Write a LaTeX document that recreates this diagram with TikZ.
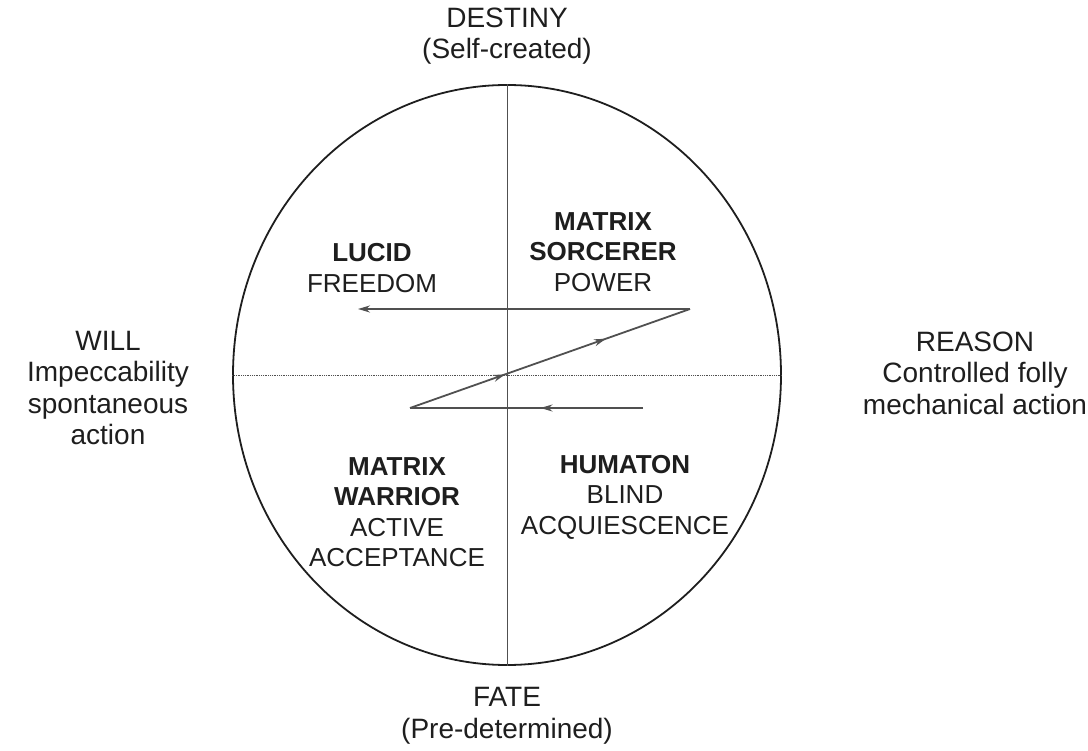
\documentclass[tikz,border=0pt]{standalone}
\usepackage{fontspec}
\setmainfont{Liberation Sans}
\usetikzlibrary{arrows.meta,decorations.markings,shapes.geometric,positioning}
\definecolor{inkgray}{HTML}{1E1E1E}
\definecolor{linegray}{HTML}{505050}

\begin{document}
\begin{tikzpicture}[x=1pt, y=-1pt,
    >={Stealth[length=12pt, width=7pt]},
    pole/.style={align=center, text=inkgray, inner sep=0pt, font=\fontsize{28}{31.5}\selectfont},
    quad/.style={align=center, text=inkgray, inner sep=0pt, font=\fontsize{26}{30.5}\selectfont},
    ring/.style={ellipse, draw=inkgray, line width=1.8pt, minimum width=548pt, minimum height=580pt, inner sep=0pt},
    axis/.style={draw=linegray, line width=0.8pt},
    zig/.style={draw=linegray, line width=1.8pt},
    midarrow/.style={postaction={decorate}, decoration={markings, mark=at position #1 with {\arrow{>}}}}
]
\useasboundingbox (0,0) rectangle (1088,751);

% circle and axes
\node [ring] (ring) at (507,375) {};
\draw [axis] (ring.north) -- (ring.south);
\draw [axis, densely dotted] (ring.west) -- (ring.east);

% poles
\node [pole] (destiny) at (507,36) {DESTINY\\(Self-created)};
\node [pole] (fate) at (507,716) {FATE\\(Pre-determined)};
\node [pole] (will) at (108,388) {WILL\\Impeccability\\spontaneous\\action};
\node [pole] (reason) at (975,373) {REASON\\Controlled folly\\mechanical action};

% quadrants
\node [quad] (lucid) at (372,268) {\textbf{LUCID}\\FREEDOM};
\node [quad] (sorcerer) at (603,252) {\textbf{MATRIX}\\\textbf{SORCERER}\\POWER};
\node [quad] (warrior) at (397,512) {\textbf{MATRIX}\\\textbf{WARRIOR}\\ACTIVE\\ACCEPTANCE};
\node [quad] (humaton) at (625,497) {\textbf{HUMATON}\\BLIND\\ACQUIESCENCE};

% the zigzag path
\coordinate (zstart) at (643,408);
\coordinate (zleft) at (410,408);
\coordinate (zright) at (690,309);
\coordinate (zend) at (358,309);

\draw [zig, midarrow=0.44] (zstart) -- (zleft);
\draw [zig, postaction={decorate}, decoration={markings, mark=at position 0.34 with {\arrow{>}}, mark=at position 0.7 with {\arrow{>}}}] (zleft) -- (zright);
\draw [zig, ->] (zright) -- (zend);

\end{tikzpicture}
\end{document}
